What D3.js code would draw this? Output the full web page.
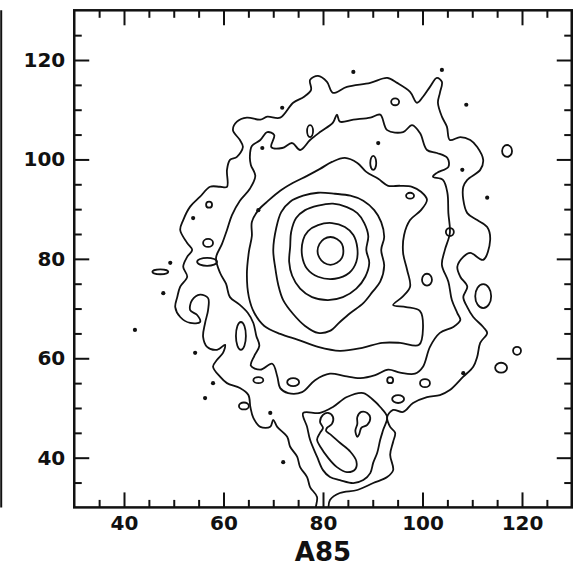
<!DOCTYPE html>
<html>
<head>
<meta charset="utf-8">
<script src="https://cdn.jsdelivr.net/npm/d3@7"></script>
<style>
  html, body { margin: 0; padding: 0; background: #fff; }
  svg { display: block; }
  text { font-family: "DejaVu Sans", "Liberation Sans", sans-serif; fill: #111; }
</style>
</head>
<body>
<svg id="chart" width="577" height="568"></svg>
<script>
// Axis setup (offset coordinates, arbitrary units)
const xDomain = [30, 130];
const yDomain = [30, 130];
const xMajorTicks = [40, 60, 80, 100, 120];
const yMajorTicks = [40, 60, 80, 100, 120];
const minorTicks = [35, 45, 50, 55, 65, 70, 75, 85, 90, 95, 105, 110, 115, 125];
const xTitle = "A85";

// Surface-brightness contours, one closed path per level (innermost first).
const level7 = [[84.1,81.6],[83.8,83.0],[82.8,84.0],[81.5,84.4],[80.2,84.0],[79.3,83.0],[78.9,81.6],[79.3,80.2],[80.2,79.2],[81.5,78.8],[82.8,79.2],[83.8,80.2]];
const level6 = [[76.0,83.8],[77.0,85.6],[79.0,86.8],[81.8,87.2],[84.4,86.4],[86.1,84.8],[86.9,82.2],[86.7,79.4],[85.3,77.2],[82.4,76.0],[79.0,76.4],[76.8,78.0],[75.8,80.6]];
const level5 = [[73.6,85.4],[74.6,88.2],[76.4,89.8],[79.0,90.7],[82.0,91.1],[84.8,90.4],[86.9,89.2],[88.3,87.2],[89.1,84.6],[88.7,81.8],[89.3,79.2],[88.5,76.4],[86.7,74.0],[84.0,72.3],[81.0,71.7],[77.8,72.3],[75.4,74.0],[73.8,76.6],[73.2,79.4],[73.4,82.4]];
const level4 = [[70.6,86.2],[71.6,89.4],[73.4,91.5],[76.0,92.7],[79.0,93.3],[82.4,93.1],[85.5,92.7],[88.1,91.7],[90.3,89.8],[91.7,87.4],[92.3,84.4],[91.7,81.8],[92.3,78.6],[91.5,75.4],[89.9,73.3],[88.1,71.1],[85.5,69.1],[83.4,67.3],[81.4,65.5],[79.0,65.1],[76.4,66.5],[74.0,68.9],[72.0,71.7],[71.0,74.8],[70.4,78.2],[70.0,81.8]];
const level3 = [[65.7,87.4],[67.0,89.8],[69.0,91.7],[71.4,93.7],[74.0,95.3],[76.8,96.7],[79.4,98.1],[81.8,99.5],[84.4,100.3],[86.9,99.3],[88.7,97.5],[91.1,96.1],[93.1,94.7],[95.5,94.7],[97.9,94.5],[99.7,93.5],[100.9,91.9],[99.7,89.8],[97.5,87.8],[96.3,84.8],[96.1,81.2],[96.9,77.8],[97.5,74.4],[95.9,72.3],[94.1,70.7],[96.7,70.3],[99.5,69.5],[100.1,66.1],[99.3,62.7],[95.5,63.1],[91.9,63.1],[87.9,62.1],[83.4,61.5],[79.0,62.3],[75.0,63.7],[71.4,64.9],[68.2,66.5],[66.2,69.1],[65.1,72.3],[64.7,76.8],[65.1,81.4],[65.7,84.6]];
const level2 = [[65.3,100.5],[65.7,102.7],[67.4,103.9],[68.8,105.5],[70.2,104.9],[69.6,102.5],[71.8,102.3],[73.8,103.3],[75.4,101.9],[77.4,103.9],[79.4,105.5],[82.0,107.4],[82.8,109.0],[83.4,107.6],[86.1,108.0],[89.5,108.4],[91.5,109.0],[92.9,105.9],[96.1,105.5],[97.9,106.9],[99.5,105.3],[100.9,101.9],[102.9,101.3],[105.0,100.3],[105.2,98.5],[102.9,97.3],[102.1,96.5],[104.1,95.9],[105.0,93.3],[105.2,89.2],[105.5,85.2],[104.5,81.8],[103.9,78.8],[105.2,75.4],[105.9,71.7],[107.0,69.1],[107.6,67.7],[106.2,66.3],[103.5,65.1],[101.5,62.3],[100.1,58.3],[98.5,56.9],[95.5,57.1],[93.1,57.7],[90.5,56.6],[87.5,56.0],[84.4,56.4],[81.4,56.9],[78.4,55.6],[75.8,53.2],[73.0,53.0],[71.4,54.0],[70.8,56.4],[69.8,58.9],[67.4,57.7],[65.5,58.5],[66.2,60.5],[67.2,62.5],[66.6,64.5],[66.0,67.1],[64.9,69.1],[63.1,70.9],[61.3,72.3],[60.5,75.0],[59.3,77.2],[58.5,80.2],[59.7,83.0],[60.7,85.8],[61.7,88.8],[63.3,91.7],[65.3,94.1],[66.4,96.7],[65.5,98.9]];
const level1 = [[61.9,105.9],[62.7,107.6],[64.7,108.4],[67.4,108.0],[68.8,108.6],[71.4,108.4],[74.0,111.4],[76.2,112.6],[77.6,114.0],[77.4,116.0],[79.0,116.8],[80.8,115.6],[82.0,113.4],[84.8,114.6],[89.5,115.4],[92.9,116.4],[94.9,115.4],[97.5,113.6],[98.9,111.4],[100.1,112.6],[101.5,114.6],[102.9,116.4],[103.9,115.6],[103.5,113.4],[103.1,111.4],[103.9,108.6],[104.9,106.6],[105.5,103.9],[107.6,104.5],[109.6,103.9],[111.0,102.5],[112.2,99.9],[111.6,97.9],[109.0,95.9],[108.2,94.5],[108.2,91.9],[109.0,89.2],[111.0,87.8],[113.0,86.4],[113.6,83.8],[112.2,79.8],[109.6,81.2],[108.2,80.4],[107.0,78.4],[107.6,76.4],[109.0,74.4],[108.2,72.3],[109.0,70.3],[110.2,68.3],[112.2,66.3],[113.0,65.1],[111.6,63.1],[111.0,60.3],[110.2,58.3],[108.2,56.3],[105.5,53.6],[103.5,52.6],[100.9,52.2],[98.1,51.0],[96.1,49.2],[94.1,49.6],[92.9,48.2],[93.5,46.2],[94.5,45.0],[94.1,43.2],[93.5,40.6],[94.1,37.5],[92.9,36.1],[90.1,34.9],[86.9,33.5],[83.4,32.9],[81.4,31.5],[80.8,29.1],[78.6,29.1],[78.8,32.1],[77.4,34.1],[76.8,36.1],[75.4,38.1],[74.8,40.2],[73.4,42.2],[72.8,44.2],[70.8,46.2],[70.0,47.6],[69.4,46.2],[67.4,46.2],[66.0,48.0],[65.4,50.2],[65.0,52.6],[63.3,54.0],[60.7,55.0],[59.3,56.3],[57.9,58.3],[58.7,59.7],[59.9,61.1],[60.3,62.7],[58.7,61.7],[56.7,62.3],[55.9,64.3],[56.3,67.1],[56.9,69.7],[56.9,72.1],[55.3,72.8],[53.7,71.7],[53.3,69.7],[54.7,68.7],[55.3,67.3],[53.3,67.1],[51.3,68.3],[50.3,70.3],[50.7,72.3],[51.3,74.4],[52.7,76.4],[51.9,78.4],[52.7,80.4],[53.7,81.8],[52.7,83.2],[51.3,85.8],[51.9,87.8],[53.3,90.5],[55.3,92.5],[57.3,94.5],[59.3,94.5],[60.7,94.5],[60.7,97.9],[61.3,99.9],[62.7,100.5],[63.9,102.5],[63.3,103.9]];

// Southern sub-clump
const southLevel2 = [[76.0,49.0],[79.4,49.0],[82.0,50.2],[84.8,52.2],[88.1,53.0],[90.1,51.6],[91.5,50.2],[92.9,48.2],[92.1,45.6],[91.5,43.6],[90.9,41.0],[90.1,39.0],[89.5,36.9],[88.1,35.5],[86.1,34.9],[83.4,35.5],[81.4,36.1],[80.0,37.5],[78.8,40.2],[77.4,43.6],[76.8,46.2]];
const southLevel3 = [[79.6,42.0],[78.8,43.6],[79.4,45.0],[80.0,46.0],[79.4,47.2],[80.0,48.6],[81.0,49.0],[82.0,48.2],[81.8,46.8],[80.8,46.0],[80.6,45.4],[81.6,44.6],[83.4,43.0],[85.5,41.2],[86.7,39.3],[86.5,37.7],[84.8,37.1],[82.8,38.1],[81.0,40.0]];
const southKnot = [[86.9,44.2],[86.5,45.4],[86.9,46.8],[86.9,48.2],[87.7,49.2],[88.9,49.0],[89.5,48.0],[88.9,46.6],[87.7,46.0],[87.3,44.8]];

// Small isolated islands: [x, y, half-width, half-height]
const islands = [
  [94.5,111.6,0.8,0.7],[117.0,101.7,1.0,1.2],[77.4,105.7,0.6,1.2],[57.1,90.9,0.6,0.6],
  [56.9,83.2,1.0,0.8],[56.7,79.4,2.0,0.8],[47.3,77.4,1.6,0.5],[63.5,64.5,1.0,2.8],
  [64.1,50.4,1.0,0.7],[67.0,55.6,1.0,0.6],[74.0,55.2,1.2,0.8],[90.1,99.3,0.6,1.4],
  [97.5,92.7,0.8,0.6],[100.9,75.8,1.0,1.2],[112.2,72.5,1.6,2.4],[119.0,61.5,0.8,0.8],
  [115.8,58.1,1.2,1.0],[100.5,55.0,1.0,0.8],[93.5,55.6,0.6,0.6],[95.1,51.8,1.2,0.8],
  [105.5,85.4,0.8,0.8]
];
// Single-pixel peaks
const peaks = [
  [86.1,117.6],[103.9,118.0],[108.8,111.0],[108.0,97.9],[113.0,92.3],[91.1,103.3],
  [71.8,110.4],[67.8,102.3],[67.0,89.8],[53.9,88.2],[49.3,79.2],[47.9,73.1],
  [42.2,65.7],[54.3,61.1],[56.3,52.0],[57.9,55.0],[69.4,49.0],[72.0,39.1],[108.2,57.0]
];

const contours = [level1, level2, level3, level4, level5, level6, level7,
                  southLevel2, southLevel3, southKnot];

// ---- drawing ----
const box = { left: 74.25, right: 571.75, top: 10.3, bottom: 507.4 };
const x = d3.scaleLinear().domain(xDomain).range([box.left, box.right]);
const y = d3.scaleLinear().domain(yDomain).range([box.bottom, box.top]);
const ink = "#111";

const svg = d3.select("#chart");

// border of the neighbouring panel at the far left
svg.append("line")
  .attr("x1", 1.2).attr("x2", 1.2)
  .attr("y1", y(yDomain[1])).attr("y2", y(yDomain[0]))
  .attr("stroke", ink).attr("stroke-width", 2);

svg.append("defs").append("clipPath").attr("id", "plotArea")
  .append("rect")
  .attr("x", box.left).attr("y", box.top)
  .attr("width", box.right - box.left).attr("height", box.bottom - box.top);

const plot = svg.append("g").attr("clip-path", "url(#plotArea)");

const ring = d3.line()
  .x(d => x(d[0])).y(d => y(d[1]))
  .curve(d3.curveCatmullRomClosed.alpha(0.5));

plot.selectAll("path.contour").data(contours).join("path")
  .attr("class", "contour")
  .attr("d", ring)
  .attr("fill", "none")
  .attr("stroke", ink)
  .attr("stroke-width", 1.8)
  .attr("stroke-linejoin", "round");

plot.selectAll("ellipse.island").data(islands).join("ellipse")
  .attr("class", "island")
  .attr("cx", d => x(d[0])).attr("cy", d => y(d[1]))
  .attr("rx", d => x(d[0] + d[2]) - x(d[0]))
  .attr("ry", d => y(d[1]) - y(d[1] + d[3]))
  .attr("fill", "none").attr("stroke", ink).attr("stroke-width", 1.8);

plot.selectAll("circle.peak").data(peaks).join("circle")
  .attr("class", "peak")
  .attr("cx", d => x(d[0])).attr("cy", d => y(d[1]))
  .attr("r", 2.1).attr("fill", ink);

// ---- axes: ticks on all four sides, pointing inward ----
function styleAxis(g) {
  g.select(".domain").remove();
  g.selectAll(".tick line").attr("stroke", ink).attr("stroke-width", 2);
  g.selectAll(".tick text").attr("font-size", 20).attr("font-weight", "bold").attr("fill", ink)
    .attr("font-family", "DejaVu Sans, sans-serif");
}
const fmt = d3.format("d");
const none = () => "";

svg.append("g").attr("transform", `translate(0,${box.bottom})`)
  .call(d3.axisBottom(x).tickValues(xMajorTicks).tickSize(-15).tickPadding(8).tickFormat(fmt)).call(styleAxis);
svg.append("g").attr("transform", `translate(0,${box.bottom})`)
  .call(d3.axisBottom(x).tickValues(minorTicks).tickSize(-7.5).tickFormat(none)).call(styleAxis);
svg.append("g").attr("transform", `translate(0,${box.top})`)
  .call(d3.axisTop(x).tickValues(xMajorTicks).tickSize(-15).tickFormat(none)).call(styleAxis);
svg.append("g").attr("transform", `translate(0,${box.top})`)
  .call(d3.axisTop(x).tickValues(minorTicks).tickSize(-7.5).tickFormat(none)).call(styleAxis);

svg.append("g").attr("transform", `translate(${box.left},0)`)
  .call(d3.axisLeft(y).tickValues(yMajorTicks).tickSize(-15).tickPadding(9).tickFormat(fmt)).call(styleAxis);
svg.append("g").attr("transform", `translate(${box.left},0)`)
  .call(d3.axisLeft(y).tickValues(minorTicks).tickSize(-7.5).tickFormat(none)).call(styleAxis);
svg.append("g").attr("transform", `translate(${box.right},0)`)
  .call(d3.axisRight(y).tickValues(yMajorTicks).tickSize(-15).tickFormat(none)).call(styleAxis);
svg.append("g").attr("transform", `translate(${box.right},0)`)
  .call(d3.axisRight(y).tickValues(minorTicks).tickSize(-7.5).tickFormat(none)).call(styleAxis);

// frame
svg.append("rect")
  .attr("x", box.left).attr("y", box.top)
  .attr("width", box.right - box.left).attr("height", box.bottom - box.top)
  .attr("fill", "none").attr("stroke", ink).attr("stroke-width", 2.5);

svg.append("text")
  .attr("x", x((xDomain[0] + xDomain[1]) / 2)).attr("y", 561)
  .attr("text-anchor", "middle").attr("font-size", 26).attr("font-weight", "bold")
  .text(xTitle);
</script>
</body>
</html>
